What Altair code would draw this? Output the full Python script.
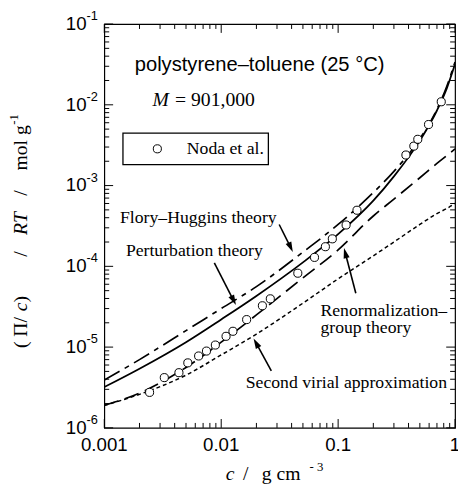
import altair as alt
import pandas as pd
import math

# ---------------- data ----------------
conc_grid = [0.001, 0.002, 0.005, 0.01, 0.02, 0.05, 0.1, 0.2, 0.3, 0.5, 0.7, 0.85, 1.0]
perturbation = [3.2e-6, 5.4e-6, 1.15e-5, 2.2e-5, 4.3e-5, 1.12e-4, 2.5e-4, 6.5e-4, 1.3e-3, 3.6e-3, 8.5e-3, 1.6e-2, 3.2e-2]
flory_huggins = [3.9e-6, 7.0e-6, 1.6e-5, 3.0e-5, 5.6e-5, 1.5e-4, 3.3e-4, 8.2e-4, 1.5e-3, 3.8e-3, 8.8e-3, 1.7e-2, 3.4e-2]
renormalization = [1.9e-6, 2.7e-6, 5.6e-6, 1.15e-5, 2.5e-5, 7.2e-5, 1.6e-4, 4.2e-4, 6.8e-4, 1.25e-3, 1.88e-3, 2.35e-3, 2.85e-3]
second_virial = [1.9e-6, 2.6e-6, 4.5e-6, 8.0e-6, 1.45e-5, 3.5e-5, 7.0e-5, 1.35e-4, 2.0e-4, 3.3e-4, 4.5e-4, 5.2e-4, 6.0e-4]

noda_c = [0.00244, 0.00326, 0.00435, 0.00518, 0.00641, 0.00748, 0.00891, 0.0110, 0.0126,
          0.0165, 0.0225, 0.0263, 0.0452, 0.0628, 0.0778, 0.0892, 0.117, 0.145,
          0.380, 0.444, 0.480, 0.593, 0.762]
noda_v = [2.75e-6, 4.19e-6, 4.82e-6, 6.38e-6, 7.76e-6, 8.93e-6, 1.06e-5, 1.36e-5, 1.57e-5,
          2.19e-5, 3.25e-5, 3.96e-5, 8.22e-5, 1.29e-4, 1.75e-4, 2.19e-4, 3.25e-4, 4.95e-4,
          2.39e-3, 3.08e-3, 3.74e-3, 5.70e-3, 1.09e-2]

x_major = [0.001, 0.01, 0.1, 1.0]
x_major_labels = ["0.001", "0.01", "0.1", "1"]
x_minor = [k * 10.0 ** e for e in (-3, -2, -1) for k in range(2, 10)]
y_major = [1e-6, 1e-5, 1e-4, 1e-3, 1e-2, 1e-1]
y_major_exps = ["-6", "-5", "-4", "-3", "-2", "-1"]
y_minor = [k * 10.0 ** e for e in (-6, -5, -4, -3, -2) for k in range(2, 10)]

# ---------------- layout ----------------
W, H = 357, 411
SERIF = "Liberation Serif"
SANS = "Liberation Sans"
MAJ, MIN = 9, 5

xs = alt.Scale(type="log", domain=[0.001, 1.0], nice=False)
ys = alt.Scale(type="log", domain=[1e-6, 1e-1], nice=False)
one = pd.DataFrame({"k": [0]})


def curve(vals, dash=None, width=1.7):
    df = pd.DataFrame({"c": conc_grid, "v": vals})
    kw = dict(color="black", strokeWidth=width, interpolate="monotone", clip=True)
    if dash:
        kw["strokeDash"] = dash
    return alt.Chart(df).mark_line(**kw).encode(
        x=alt.X("c:Q", scale=xs, axis=None),
        y=alt.Y("v:Q", scale=ys, axis=None),
    )


def xticks(vals, length, bottom):
    df = pd.DataFrame({"c": vals})
    y0, y1 = (H, H - length) if bottom else (0, length)
    return alt.Chart(df).mark_rule(color="black", strokeWidth=1).encode(
        x=alt.X("c:Q", scale=xs, axis=None), y=alt.value(y0), y2=alt.value(y1)
    )


def yticks(vals, length, left):
    df = pd.DataFrame({"v": vals})
    x0, x1 = (0, length) if left else (W, W - length)
    return alt.Chart(df).mark_rule(color="black", strokeWidth=1).encode(
        y=alt.Y("v:Q", scale=ys, axis=None), x=alt.value(x0), x2=alt.value(x1)
    )


def label(text, x, y, size=18, font=SERIF, style="normal", align="left", angle=0):
    return alt.Chart(one).mark_text(
        text=text, font=font, fontSize=size, fontStyle=style, align=align,
        baseline="middle", angle=angle, color="black"
    ).encode(x=alt.value(x), y=alt.value(y))


def arrow(x0, y0, x1, y1, ang):
    dx, dy = x1 - x0, y1 - y0
    n = math.hypot(dx, dy)
    ux, uy = dx / n, dy / n
    shaft = alt.Chart(one).mark_rule(color="black", strokeWidth=1.6).encode(
        x=alt.value(x0), y=alt.value(y0), x2=alt.value(x1 - 6 * ux), y2=alt.value(y1 - 6 * uy)
    )
    head = alt.Chart(one).mark_point(
        shape="M0,-1L0.6,1L-0.6,1Z", size=110, filled=True, color="black",
        opacity=1, angle=ang, strokeWidth=0
    ).encode(x=alt.value(x1 - 5.2 * ux), y=alt.value(y1 - 5.2 * uy))
    return shaft + head


layers = []

# legend box
layers.append(alt.Chart(one).mark_rect(fill="white", stroke="black", strokeWidth=1.3).encode(
    x=alt.value(19), x2=alt.value(167), y=alt.value(111), y2=alt.value(143)))
layers.append(alt.Chart(one).mark_point(shape="circle", size=68, fill="white", stroke="black",
                                        strokeWidth=1, opacity=1).encode(
    x=alt.value(54), y=alt.value(127)))
layers.append(label("Noda et al.", 84, 127, size=18))

# curves
layers.append(curve(second_virial, dash=[4, 3], width=1.5))
layers.append(curve(renormalization, dash=[15, 7], width=1.7))
layers.append(curve(flory_huggins, dash=[18, 6, 5, 6], width=1.7))
layers.append(curve(perturbation, width=1.8))

# data points
noda = pd.DataFrame({"c": noda_c, "v": noda_v})
layers.append(alt.Chart(noda).mark_point(shape="circle", size=68, fill="white", stroke="black",
                                         strokeWidth=1, opacity=1).encode(
    x=alt.X("c:Q", scale=xs, axis=None), y=alt.Y("v:Q", scale=ys, axis=None)))

# ticks (inside, on all four sides)
for b in (True, False):
    layers.append(xticks(x_major, MAJ, b))
    layers.append(xticks(x_minor, MIN, b))
    layers.append(yticks(y_major, MAJ, b))
    layers.append(yticks(y_minor, MIN, b))

# tick labels
xl = pd.DataFrame({"c": x_major, "lab": x_major_labels})
layers.append(alt.Chart(xl).mark_text(font=SANS, fontSize=19, align="center", baseline="middle",
                                      color="black").encode(
    x=alt.X("c:Q", scale=xs, axis=None), y=alt.value(H + 18), text="lab:N"))
yl = pd.DataFrame({"v": y_major, "e": y_major_exps})
layers.append(alt.Chart(yl).mark_text(font=SANS, fontSize=19, align="right", baseline="middle",
                                      color="black", text="10").encode(
    y=alt.Y("v:Q", scale=ys, axis=None), x=alt.value(-18)))
layers.append(alt.Chart(yl).mark_text(font=SANS, fontSize=13, align="left", baseline="middle",
                                      color="black", dy=-8).encode(
    y=alt.Y("v:Q", scale=ys, axis=None), x=alt.value(-18), text="e:N"))

# axis titles
XT = 458
layers += [
    label("c", 128, XT, size=20, style="italic", align="center"),
    label("/", 144, XT, size=20, align="center"),
    label("g cm", 180, XT, size=20, align="center"),
    label("- 3", 216, XT - 7, size=13, align="center"),
]
TX = -85
layers += [
    label("( Π/", TX, 314, size=20, align="center", angle=270),
    label("c", TX, 288, size=20, style="italic", align="center", angle=270),
    label(")", TX, 280, size=20, align="center", angle=270),
    label("/", TX, 234, size=20, align="center", angle=270),
    label("RT", TX, 203, size=20, style="italic", align="center", angle=270),
    label("/", TX, 172, size=20, align="center", angle=270),
    label("mol g", TX, 126, size=20, align="center", angle=270),
    label("-1", TX - 7, 97, size=13, align="center", angle=270),
]

# texts in the plot
layers += [
    label("polystyrene–toluene (25 °C)", 31, 42, size=20.5, font=SANS),
    label("M", 49, 77, size=20, style="italic"),
    label("= 901,000", 72, 77, size=20),
    label("Flory–Huggins theory", 16, 197, size=18),
    label("Perturbation theory", 22, 231, size=18),
    label("Renormalization–", 220, 292, size=18),
    label("group theory", 220, 309, size=18),
    label("Second virial approximation", 144, 365, size=18),
]

# arrows
layers += [
    arrow(178, 204, 192, 232, 155),
    arrow(112, 243, 134, 286, 153),
    arrow(256, 274, 244, 228, 345),
    arrow(170, 353, 152, 320, 331),
]

chart = alt.layer(*layers).properties(
    width=W, height=H,
    autosize=alt.AutoSizeParams(type="none"),
    padding={"left": 98, "top": 12, "right": 3, "bottom": 64},
).configure_view(stroke="black", strokeWidth=1.2)

chart.save("out.html", embed_options={"renderer": "svg", "actions": False})
